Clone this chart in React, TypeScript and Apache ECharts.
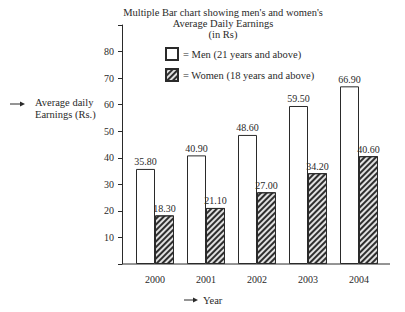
import React, { useEffect, useRef } from "react";
import * as echarts from "echarts";

const years = ["2000", "2001", "2002", "2003", "2004"];
const menValues = [35.8, 40.9, 48.6, 59.5, 66.9];
const womenValues = [18.3, 21.1, 27.0, 34.2, 40.6];
const titleLines = ["Multiple Bar chart showing men's and women's", "Average Daily Earnings", "(in Rs)"];
const seriesNames = ["Men (21 years and above)", "Women (18 years and above)"];

const FONT = "Liberation Serif";
const INK = "#2a2a2a";

export default function App() {
  const ref = useRef<HTMLDivElement>(null);
  useEffect(() => {
    if (!ref.current) return;
    const chart = echarts.init(ref.current, null, { renderer: "svg" });
    const labelStyle = {
      show: true,
      position: "top",
      fontFamily: FONT,
      fontSize: 10,
      color: INK,
      distance: 2,
      formatter: (p: any) => Number(p.value).toFixed(2),
    };
    chart.setOption({
      animation: false,
      backgroundColor: "#fff",
      textStyle: { fontFamily: FONT },
      grid: { left: 129.5, right: 20.5, top: 25, bottom: 48, containLabel: false },
      legend: {
        orient: "vertical",
        left: 160,
        top: 42,
        itemWidth: 12,
        itemHeight: 12,
        itemGap: 7,
        icon: "rect",
        data: seriesNames,
        formatter: (n: string) => "= " + n,
        textStyle: { fontFamily: FONT, fontSize: 10.5, color: INK },
      },
      graphic: [
        ...titleLines.map((t, i) => ({
          type: "text",
          x: 223,
          y: 12 + i * 11,
          style: {
            text: t,
            fontFamily: FONT,
            fontSize: 10.5,
            fill: INK,
            textAlign: "center",
            textVerticalAlign: "middle",
          },
        })),
        // y-axis name with arrow
        { type: "line", shape: { x1: 10, y1: 104, x2: 23, y2: 104 }, style: { stroke: INK, lineWidth: 1 } },
        { type: "polygon", shape: { points: [[25, 104], [20, 101.5], [20, 106.5]] }, style: { fill: INK } },
        {
          type: "text",
          x: 35,
          y: 96,
          style: { text: "Average daily\nEarnings (Rs.)", fontFamily: FONT, fontSize: 10.5, lineHeight: 12, fill: INK },
        },
        // x-axis name with arrow
        { type: "line", shape: { x1: 184, y1: 300, x2: 196, y2: 300 }, style: { stroke: INK, lineWidth: 1 } },
        { type: "polygon", shape: { points: [[198, 300], [193, 297.5], [193, 302.5]] }, style: { fill: INK } },
        {
          type: "text",
          x: 203,
          y: 300,
          style: { text: "Year", fontFamily: FONT, fontSize: 10.5, fill: INK, textVerticalAlign: "middle" },
        },
        // baseline extended to meet the y axis and run past the last category
        { type: "line", shape: { x1: 122, y1: 264, x2: 390, y2: 264 }, style: { stroke: INK, lineWidth: 1 }, z: 10 },
      ],
      xAxis: {
        type: "category",
        data: years,
        axisLine: { show: false },
        axisTick: { show: false },
        axisLabel: { fontFamily: FONT, fontSize: 10, color: INK, margin: 10 },
      },
      yAxis: {
        type: "value",
        min: 0,
        max: 90,
        interval: 10,
        offset: 7.5,
        splitLine: { show: false },
        axisLine: { show: true, lineStyle: { color: INK, width: 1 } },
        axisTick: { show: true, length: 4, lineStyle: { color: INK } },
        axisLabel: {
          fontFamily: FONT,
          fontSize: 10,
          color: INK,
          margin: 8,
          formatter: (v: number) => (v === 0 || v === 90 ? "" : String(v)),
        },
      },
      series: [
        {
          name: seriesNames[0],
          type: "bar",
          data: menValues,
          barWidth: 19,
          barGap: "0%",
          itemStyle: { color: "#fff", borderColor: INK, borderWidth: 1 },
          label: labelStyle,
        },
        {
          name: seriesNames[1],
          type: "bar",
          data: womenValues,
          barWidth: 19,
          itemStyle: {
            color: "#e0e0e0",
            borderColor: INK,
            borderWidth: 1,
            decal: {
              symbol: "rect",
              color: "#2e2e2e",
              backgroundColor: "#e8e8e8",
              dashArrayX: [1, 0],
              dashArrayY: [1.4, 1.5],
              rotation: -Math.PI / 4,
            },
          },
          label: labelStyle,
        },
      ],
    });
    return () => chart.dispose();
  }, []);
  return <div ref={ref} style={{ position: "fixed", left: 0, top: 0, width: 405, height: 312 }} />;
}
